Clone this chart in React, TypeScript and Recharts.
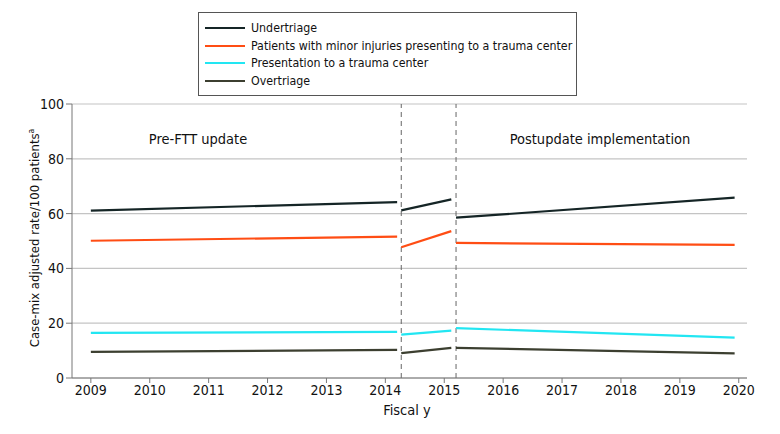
import { CartesianGrid, Line, LineChart, ReferenceLine, XAxis, YAxis } from 'recharts';

const FONT = '"DejaVu Sans Condensed", "Liberation Sans Narrow", "Open Sans", sans-serif';

// fiscal-year positions of the three periods (pre, transition, post)
const preX = [2009, 2014.2];
const transX = [2014.27, 2015.12];
const postX = [2015.2, 2019.93];

const undertriage = { pre: [61.1, 64.2], trans: [61.2, 65.2], post: [58.5, 65.8] };
const minorInjuries = { pre: [50.1, 51.6], trans: [47.7, 53.6], post: [49.3, 48.6] };
const presentation = { pre: [16.5, 16.8], trans: [15.8, 17.3], post: [18.2, 14.7] };
const overtriage = { pre: [9.5, 10.3], trans: [9.1, 11.0], post: [11.0, 9.0] };

const xTicks = [2009, 2010, 2011, 2012, 2013, 2014, 2015, 2016, 2017, 2018, 2019, 2020];
const yTicks = [0, 20, 40, 60, 80, 100];
const cutoffs = [2014.27, 2015.2];

const series = [
    { name: 'Undertriage', color: '#152526', values: undertriage },
    { name: 'Patients with minor injuries presenting to a trauma center', color: '#ff4d14', values: minorInjuries },
    { name: 'Presentation to a trauma center', color: '#22e6f2', values: presentation },
    { name: 'Overtriage', color: '#3c3f30', values: overtriage },
];

const toPoints = (xs: number[], ys: number[]) => xs.map((x, i) => ({ x, y: ys[i] }));

function LegendBox() {
    return (
        <div
            style={{
                position: 'absolute',
                left: 198,
                top: 12,
                width: 379,
                boxSizing: 'border-box',
                border: '1px solid #555',
                padding: '6px 6px 5px 6px',
                fontFamily: FONT,
                fontSize: 12.3,
                color: '#111',
                background: '#fff',
                whiteSpace: 'nowrap',
            }}
        >
            {series.map((s) => (
                <div key={s.name} style={{ display: 'flex', alignItems: 'center', height: 17.8 }}>
                    <span style={{ width: 40, height: 2, background: s.color, marginRight: 6, display: 'inline-block', flexShrink: 0 }} />
                    <span>{s.name}</span>
                </div>
            ))}
        </div>
    );
}

export default function App() {
    return (
        <div style={{ position: 'absolute', left: 0, top: 0, width: 780, height: 434, background: '#fff' }}>
            <LineChart width={780} height={434} margin={{ top: 104, right: 33, bottom: 26, left: 0 }}>
                <CartesianGrid horizontal vertical={false} stroke="#c4c4c4" strokeWidth={1.2} />
                <XAxis
                    type="number"
                    dataKey="x"
                    domain={[2008.68, 2020.14]}
                    ticks={xTicks}
                    allowDataOverflow
                    height={30}
                    stroke="#777"
                    tick={{ fill: '#111', fontSize: 14, fontFamily: FONT }}
                    tickSize={5}
                />
                <YAxis
                    type="number"
                    domain={[0, 100]}
                    ticks={yTicks}
                    width={72}
                    stroke="#777"
                    tick={{ fill: '#111', fontSize: 14, fontFamily: FONT }}
                    tickSize={6}
                />
                {cutoffs.map((c) => (
                    <ReferenceLine key={c} x={c} stroke="#666" strokeDasharray="5 4" strokeWidth={1} />
                ))}
                {series.flatMap((s) => [
                    <Line key={s.name + '-pre'} data={toPoints(preX, s.values.pre)} dataKey="y" stroke={s.color} strokeWidth={2.2} dot={false} isAnimationActive={false} />,
                    <Line key={s.name + '-trans'} data={toPoints(transX, s.values.trans)} dataKey="y" stroke={s.color} strokeWidth={2.2} dot={false} isAnimationActive={false} />,
                    <Line key={s.name + '-post'} data={toPoints(postX, s.values.post)} dataKey="y" stroke={s.color} strokeWidth={2.2} dot={false} isAnimationActive={false} />,
                ])}
            </LineChart>
            <LegendBox />
            <div style={{ position: 'absolute', left: 198, top: 131, transform: 'translateX(-50%)', fontFamily: FONT, fontSize: 14.5, color: '#111', whiteSpace: 'nowrap' }}>
                Pre-FTT update
            </div>
            <div style={{ position: 'absolute', left: 600, top: 131, transform: 'translateX(-50%)', fontFamily: FONT, fontSize: 14.5, color: '#111', whiteSpace: 'nowrap' }}>
                Postupdate implementation
            </div>
            <div style={{ position: 'absolute', left: 407, top: 402, transform: 'translateX(-50%)', fontFamily: FONT, fontSize: 14.5, color: '#111' }}>
                Fiscal y
            </div>
            <div
                style={{
                    position: 'absolute',
                    left: 34,
                    top: 238,
                    transform: 'translate(-50%, -50%) rotate(-90deg)',
                    fontFamily: FONT,
                    fontSize: 13,
                    color: '#111',
                    whiteSpace: 'nowrap',
                }}
            >
                Case-mix adjusted rate/100 patients<sup style={{ fontSize: 8.5 }}>a</sup>
            </div>
        </div>
    );
}
